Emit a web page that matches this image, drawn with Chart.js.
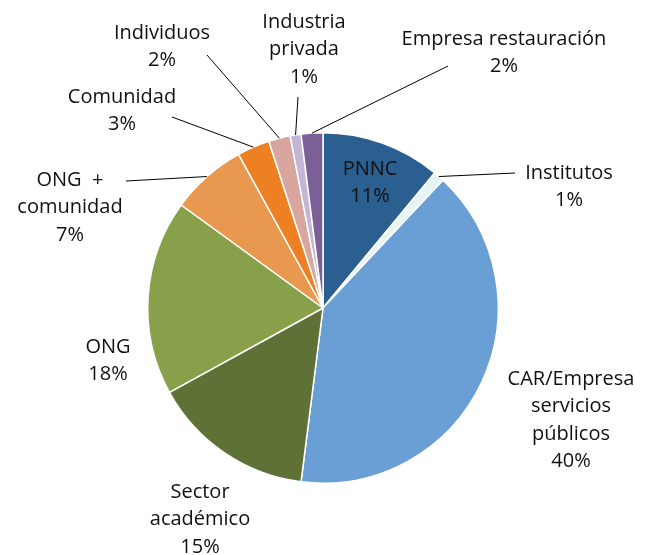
<!DOCTYPE html>
<html>
<head>
<meta charset="utf-8">
<script src="https://cdn.jsdelivr.net/npm/chart.js@4"></script>
<style>
  html, body { margin: 0; padding: 0; background: #fff; }
  #wrap { width: 646px; height: 555px; }
</style>
</head>
<body>
<div id="wrap"><canvas id="pie" width="646" height="555"></canvas></div>
<script>
// Chart data
const categories = ['PNNC', 'Institutos', 'CAR/Empresa servicios públicos', 'Sector académico', 'ONG',
  'ONG + comunidad', 'Comunidad', 'Individuos', 'Industria privada', 'Empresa restauración'];
const shares = [11, 1, 40, 15, 18, 7, 3, 2, 1, 2];

// How each label is broken into lines (text only)
const labelLines = [
  ['PNNC'], ['Institutos'], ['CAR/Empresa', 'servicios', 'públicos'], ['Sector', 'académico'], ['ONG'],
  ['ONG  +', 'comunidad'], ['Comunidad'], ['Individuos'], ['Industria', 'privada'], ['Empresa restauración']
];

const sliceColors = ['#2a5f8f', '#e6f4f4', '#6a9fd5', '#5f7137', '#88a04a',
  '#e8994f', '#ee8024', '#d9a59f', '#c4b6d6', '#7b5f96'];

// Label placement: text centre x, first baseline y, leader line end (null = no line)
const labelLayout = [
  { x: 370, y: 175, line: null },
  { x: 569, y: 179, line: [515, 173] },
  { x: 571, y: 385, line: null },
  { x: 200, y: 498, line: null },
  { x: 108, y: 353, line: null },
  { x: 70, y: 186, line: [126, 181] },
  { x: 122, y: 103, line: [172, 117] },
  { x: 162, y: 39, line: [207, 55] },
  { x: 304, y: 28, line: [298, 97] },
  { x: 504, y: 45, line: [448, 66] }
];

const lineGap = 27.3;
const total = shares.reduce((a, b) => a + b, 0);

const pieLabels = {
  id: 'pieLabels',
  afterDatasetsDraw(chart) {
    const ctx = chart.ctx;
    const meta = chart.getDatasetMeta(0);
    ctx.save();
    meta.data.forEach((arc, i) => {
      const layout = labelLayout[i];
      const p = arc.getProps(['x', 'y', 'startAngle', 'endAngle', 'outerRadius'], true);
      if (layout.line) {
        const mid = (p.startAngle + p.endAngle) / 2;
        const ex = p.x + Math.cos(mid) * p.outerRadius;
        const ey = p.y + Math.sin(mid) * p.outerRadius;
        ctx.beginPath();
        ctx.moveTo(layout.line[0], layout.line[1]);
        ctx.lineTo(ex, ey);
        ctx.strokeStyle = '#000';
        ctx.lineWidth = 1;
        ctx.stroke();
      }
      const pct = Math.round(shares[i] / total * 100) + '%';
      const lines = labelLines[i].concat([pct]);
      ctx.font = '20px "Open Sans", sans-serif';
      ctx.fillStyle = '#111111';
      ctx.textAlign = 'center';
      ctx.textBaseline = 'alphabetic';
      lines.forEach((t, k) => ctx.fillText(t, layout.x, layout.y + k * lineGap));
    });
    ctx.restore();
  }
};

new Chart(document.getElementById('pie'), {
  type: 'pie',
  data: {
    labels: categories,
    datasets: [{
      data: shares,
      backgroundColor: sliceColors,
      borderColor: '#ffffff',
      borderWidth: 1.5
    }]
  },
  options: {
    responsive: false,
    animation: false,
    layout: { padding: { top: 132, bottom: 71, left: 147, right: 147 } },
    plugins: {
      legend: { display: false },
      tooltip: { enabled: false }
    }
  },
  plugins: [pieLabels]
});
</script>
</body>
</html>
